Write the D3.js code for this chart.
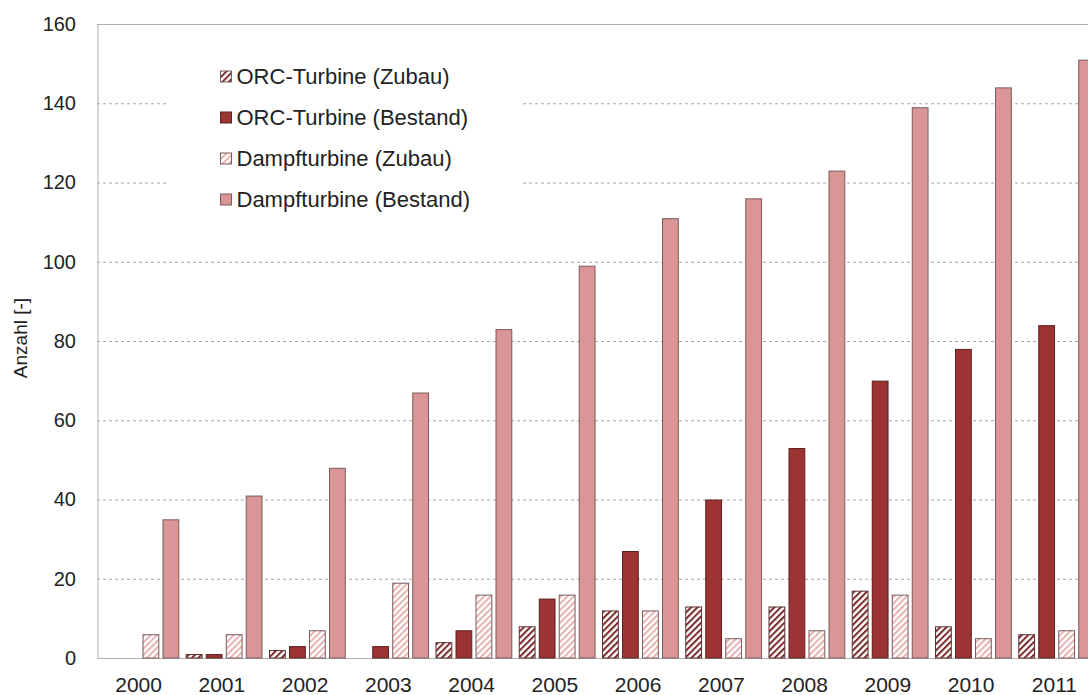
<!DOCTYPE html>
<html><head><meta charset="utf-8">
<script src="https://cdn.jsdelivr.net/npm/d3@7"></script>
<style>body{margin:0;background:#fff;}svg{display:block;font-family:"Liberation Sans",Arial,sans-serif;}</style>
</head><body><svg id="c" width="1088" height="695"></svg>
<script>
const years = ["2000","2001","2002","2003","2004","2005","2006","2007","2008","2009","2010","2011"];
const seriesNames = ["ORC-Turbine (Zubau)","ORC-Turbine (Bestand)","Dampfturbine (Zubau)","Dampfturbine (Bestand)"];
const orcZubau   = [0,1,2,0,4,8,12,13,13,17,8,6];
const orcBestand = [0,1,3,3,7,15,27,40,53,70,78,84];
const dampfZubau = [6,6,7,19,16,16,12,5,7,16,5,7];
const dampfBestand = [35,41,48,67,83,99,111,116,123,139,144,151];
const yTicks = [0,20,40,60,80,100,120,140,160];
const seriesValues = [orcZubau, orcBestand, dampfZubau, dampfBestand];
const fills = ["url(#hatchOrc)","#9b3433","url(#hatchDampf)","#da9696"];

const svg = d3.select("#c");
const defs = svg.append("defs");
function hatch(id, color){
  const p = defs.append("pattern").attr("id",id).attr("patternUnits","userSpaceOnUse")
    .attr("width",4.5).attr("height",4.5).attr("patternTransform","rotate(45)");
  p.append("rect").attr("width",4.5).attr("height",4.5).attr("fill","#fff");
  p.append("rect").attr("x",0).attr("y",0).attr("width",2).attr("height",4.5).attr("fill",color);
}
hatch("hatchOrc","#7d2a2a");
hatch("hatchDampf","#e6b2b2");

const mLeft=97, mTop=24, mBottom=658, mRight=1096;
const x = d3.scaleBand().domain(years).range([mLeft,mRight]).paddingInner(0).paddingOuter(0);
const inner = d3.scaleBand().domain(d3.range(4)).range([5.5, 5.5+76.8]).paddingInner(0.16).paddingOuter(0);
const y = d3.scaleLinear().domain([0,160]).range([mBottom,mTop]);

// gridlines
svg.append("g").selectAll("line").data(yTicks.filter(t=>t>0 && t<160)).join("line")
  .attr("x1",mLeft).attr("x2",1088).attr("y1",d=>y(d)+0.5).attr("y2",d=>y(d)+0.5)
  .attr("stroke","#a8a8a8").attr("stroke-width",1).attr("stroke-dasharray","3,3");
// top border
svg.append("line").attr("x1",mLeft).attr("x2",1088).attr("y1",mTop+0.5).attr("y2",mTop+0.5).attr("stroke","#b0b0b0");

// y axis
const yAxis = svg.append("g").attr("transform",`translate(${mLeft+0.5},0)`)
  .call(d3.axisLeft(y).tickValues(yTicks).tickSize(0).tickPadding(21.5));
yAxis.select(".domain").attr("stroke","#b0b0b0");
yAxis.selectAll("text").attr("font-size",20).attr("fill","#222").attr("font-family","Liberation Sans, Arial, sans-serif");

// x axis
const xAxis = svg.append("g").attr("transform",`translate(0,${mBottom+0.5})`)
  .call(d3.axisBottom(x).tickSize(0).tickPadding(19));
xAxis.select(".domain").attr("stroke","#b0b0b0").attr("d",`M${mLeft},0H1088`);
xAxis.selectAll("text").attr("font-size",21).attr("fill","#222").attr("font-family","Liberation Sans, Arial, sans-serif");

// bars
const groups = svg.append("g").selectAll("g").data(years).join("g")
  .attr("transform",d=>`translate(${x(d)},0)`);
groups.selectAll("rect").data((d,i)=>seriesValues.map((s,k)=>({k,v:s[i]})).filter(o=>o.v>0)).join("rect")
  .attr("x",d=>inner(d.k)+0.5).attr("width",inner.bandwidth()-1)
  .attr("y",d=>y(d.v)+0.5).attr("height",d=>y(0)-y(d.v)-0.5)
  .attr("fill",d=>fills[d.k])
  .attr("stroke",d=>d.k===1?"#5e2020":(d.k===0?"#5a3030":"#7a5a5a")).attr("stroke-width",1);

// axis title
svg.append("text").attr("transform","translate(27,338) rotate(-90)").attr("text-anchor","middle")
  .attr("font-size",19).attr("fill","#222").text("Anzahl [-]");

// legend
const lg = svg.append("g");
lg.append("rect").attr("x",166).attr("y",52).attr("width",354).attr("height",162).attr("fill","#fff");
const rows = lg.selectAll("g").data(seriesNames).join("g").attr("transform",(d,i)=>`translate(220,${76.5+i*41})`);
rows.append("rect").attr("x",0.5).attr("y",-5.5).attr("width",11).attr("height",11)
  .attr("fill",(d,i)=>fills[i]).attr("stroke",(d,i)=>i===1?"#5e2020":"#7a5a5a");
rows.append("text").attr("x",16.5).attr("y",0).attr("dy","0.36em").attr("font-size",22).attr("fill","#222").text(d=>d);
</script></body></html>
